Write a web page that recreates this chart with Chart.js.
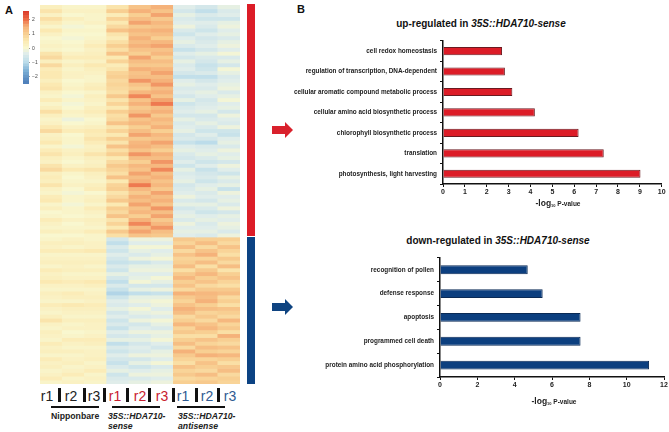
<!DOCTYPE html>
<html>
<head>
<meta charset="utf-8">
<script src="https://cdn.jsdelivr.net/npm/chart.js@4"></script>
<style>
html, body { margin: 0; padding: 0; background: #fff; }
body { position: relative; width: 669px; height: 432px; overflow: hidden; font-family: "Liberation Sans", Arial, sans-serif; color: #111; }
canvas { position: absolute; }
.t { position: absolute; white-space: nowrap; line-height: 1; }
.panel { font-weight: bold; font-size: 11px; }
.title { font-weight: bold; font-size: 10px; transform: translateX(-50%); }
.xlab { font-weight: bold; font-size: 6.5px; transform: translateX(-50%); color: #222; }
.xlab b { font-size: 8.5px; }
.xlab sub { font-size: 4px; vertical-align: -1px; }
.rep { font-size: 14px; transform: translateX(-50%); }
.sep { position: absolute; width: 2.5px; height: 14px; top: 388px; background: #111; }
.rule { position: absolute; height: 1.5px; top: 406px; background: #111; }
.grp { font-weight: bold; font-size: 8.7px; color: #222; }
svg { position: absolute; }
</style>
</head>
<body>
<canvas id="scaleBar" width="22" height="84" style="left:23px;top:5px"></canvas>
<canvas id="heat" width="200" height="379" style="left:40px;top:5px;filter:blur(0.4px)"></canvas>
<canvas id="side" width="8" height="380" style="left:247px;top:4px"></canvas>
<canvas id="upChart" width="384" height="170" style="left:285px;top:34px"></canvas>
<canvas id="downChart" width="384" height="146" style="left:285px;top:251px"></canvas>

<div class="t panel" style="left:5px;top:5px">A</div>
<div class="t panel" style="left:297px;top:4px">B</div>
<div class="t title" style="left:481px;top:19px">up-regulated in <i>35S::HDA710-sense</i></div>
<div class="t title" style="left:498px;top:236px">down-regulated in <i>35S::HDA710-sense</i></div>
<div class="t xlab" style="left:558px;top:199px"><b>-log</b><sub>10</sub> P-value</div>
<div class="t xlab" style="left:554px;top:397px"><b>-log</b><sub>10</sub> P-value</div>

<div id="reps"></div>
<div class="rule" style="left:51px;width:48px"></div>
<div class="rule" style="left:112px;width:48px"></div>
<div class="rule" style="left:177px;width:48px"></div>
<div class="t grp" style="left:51px;top:412px">Nipponbare</div>
<div class="t grp" style="left:108px;top:412px"><i>35S::HDA710-</i></div>
<div class="t grp" style="left:108px;top:421.5px"><i>sense</i></div>
<div class="t grp" style="left:178px;top:412px"><i>35S::HDA710-</i></div>
<div class="t grp" style="left:178px;top:421.5px"><i>antisense</i></div>

<svg style="left:272px;top:122px" width="22" height="17"><path d="M0 4H13V0L21 8L13 16V12H0Z" fill="#d9212c"/></svg>
<svg style="left:272px;top:299px" width="22" height="17"><path d="M0 4H13V0L21 8L13 16V12H0Z" fill="#0f4481"/></svg>

<script>
// bar chart data
const upTerms = ['cell redox homeostasis', 'regulation of transcription, DNA-dependent', 'cellular aromatic compound metabolic process', 'cellular amino acid biosynthetic process', 'chlorophyll biosynthetic process', 'translation', 'photosynthesis, light harvesting'];
const upValues = [2.7, 2.83, 3.17, 4.2, 6.2, 7.35, 9.03];
const downTerms = ['recognition of pollen', 'defense response', 'apoptosis', 'programmed cell death', 'protein amino acid phosphorylation'];
const downValues = [4.7, 5.5, 7.53, 7.53, 11.2];

// replicate labels under the heatmap
const repLabels = ['r1', 'r2', 'r3', 'r1', 'r2', 'r3', 'r1', 'r2', 'r3'];
const repColors = ['#222', '#222', '#222', '#c8202f', '#c8202f', '#c8202f', '#2f5a92', '#2f5a92', '#2f5a92'];
const repCenters = [47, 71, 94, 115, 140, 162, 183, 207, 230];
const repSeps = [58, 83, 103, 126, 148, 172, 195, 217];

// heatmap rows, one array per column
// the first 60 rows are the upper cluster, the last 38 the lower cluster
const nipR1 = [
  .3,.6,.2,.7,.4,.1,.5,.2,.0,.1,
  .2,.1,.6,.8,.3,.8,.4,.5,.5,.3,
  .5,.6,.2,.1,.4,.1,.3,.7,.3,.1,
  .2,.5,.8,.2,.3,.5,.1,.4,.6,.3,
  .2,.6,.8,.3,.4,.3,.6,.2,.1,.4,
  .5,.1,.3,.0,.1,.4,.2,.1,.3,.0,
  .1,.3,.2,.4,.1,.2,.3,.1,.4,.2,
  .3,.5,.2,.1,.3,.2,.1,.4,.2,.1,
  .3,.6,.2,.1,.3,.2,.1,.4,.2,.3,
  .1,.4,.2,.3,.1,.2,.4,.1];
const nipR2 = [
  .1,.2,.0,.3,.1,-.1,.1,.0,-.1,.0,
  .1,.0,.2,.4,.1,.3,.1,.2,.2,.0,
  .1,.2,.0,-.1,.1,-.1,.0,.2,.1,-.2,
  .0,.2,.4,.0,.1,.1,-.1,.2,.3,.1,
  .0,.2,.5,.1,.0,.1,.2,.0,-.1,.1,
  .1,-.1,.1,.1,.0,.2,.0,.1,.2,.0,
  .2,.3,.1,.4,.1,.2,.3,.2,.3,.1,
  .2,.4,.2,.1,.4,.3,.1,.5,.3,.2,
  .1,.3,.1,.2,.0,.1,.4,.2,.1,.3,
  .1,.2,.3,.1,.2,.4,.1,.2];
const nipR3 = [
  .1,.2,.1,.1,.2,.0,.1,.0,.1,.2,
  .4,.2,.3,.4,.2,.5,.3,.2,.1,.1,
  .3,.4,.1,.3,.2,.1,.3,.4,.2,.0,
  .1,.3,.5,.4,.6,.4,.2,.3,.6,.3,
  .2,.3,.6,.3,.2,.1,.3,.4,.0,.2,
  .3,.1,.4,.2,.1,.3,.2,.1,.4,.1,
  .1,.2,.2,.5,.1,.2,.3,.1,.3,.1,
  .2,.5,.3,.1,.2,.3,.2,.4,.3,.2,
  .1,.3,.2,.2,.1,.2,.4,.3,.1,.2,
  .2,.3,.1,.2,.4,.1,.2,.1];
const senR1 = [
  .6,1.0,.4,.9,.5,.8,1.2,.6,.4,.7,
  1.0,.7,1.2,.5,.9,.4,.6,.9,1.0,.8,
  .9,.8,.7,1.1,.6,.9,.5,1.0,.7,.8,
  1.2,.6,.9,.5,1.0,.6,1.2,.7,1.0,.5,
  .8,1.1,.9,.7,1.2,.5,.9,1.0,.6,.8,
  1.1,.5,1.0,.8,1.2,.6,.9,.5,1.1,.7,
  -.6,-.9,-.5,-.7,-.4,-.6,-.8,-.5,-.7,-.3,
  -.6,-.9,-.5,-.8,-1.1,-.7,-.4,-.5,-.3,-.6,
  -.4,-.7,-.5,-.8,-.4,-.6,-.3,-.9,-.5,-.7,
  -.4,-.6,-.8,-.5,-.3,-.7,-.5,-.4];
const senR2 = [
  1.2,1.5,1.0,1.3,1.6,1.1,1.4,1.2,1.5,1.3,
  1.5,1.2,1.0,1.6,1.3,1.1,1.5,1.2,1.3,1.7,
  1.2,1.0,1.4,1.8,1.2,1.5,1.1,1.3,1.7,1.2,
  1.4,1.0,1.3,1.6,1.1,1.4,1.5,1.2,1.7,1.3,
  1.0,1.4,1.2,1.6,1.3,1.5,1.9,1.4,1.1,1.5,
  1.3,1.6,1.2,1.4,1.0,1.5,1.8,1.3,1.6,1.2,
  -.2,-.4,-.1,-.3,-.5,-.2,-.7,-.3,-.2,-.4,
  -.3,-.1,-.6,-.3,-.9,-.3,-.2,-.4,-.1,-.3,
  -.5,-.2,-.6,-.4,-.2,-.5,-.3,-.6,-.4,-.5,
  -.2,-.6,-.3,-.7,-.4,-.2,-.5,-.3];
const senR3 = [
  1.5,1.2,1.6,1.1,1.4,1.2,1.5,1.3,1.0,1.4,
  1.6,1.2,1.4,1.0,1.3,1.1,1.4,1.6,1.3,1.5,
  1.7,1.3,1.5,1.2,1.6,1.9,1.3,1.5,1.1,1.4,
  1.2,1.5,1.0,1.4,1.2,1.6,1.3,1.0,1.5,1.3,
  1.7,1.4,1.8,1.3,1.5,1.2,1.4,1.1,1.6,1.3,
  1.5,1.2,1.7,1.3,1.6,1.1,1.4,1.7,1.3,1.1,
  -.2,-.4,-.1,-.4,-.3,-.1,-.5,-.3,-.2,-.4,
  -.1,-.3,-.6,-.2,-.8,-.3,-.1,-.2,-.4,-.2,
  -.4,-.1,-.3,-.5,-.2,-.3,-.1,-.4,-.6,-.3,
  -.2,-.4,-.1,-.5,-.3,-.2,-.4,-.2];
const antR1 = [
  -.4,-.6,-.3,-.5,-.4,-.2,-.5,-.7,-.4,-.3,
  -.5,-.8,-.4,-.6,-.3,-.5,-.4,-.6,-.9,-.4,
  -.3,-.5,-.4,-.6,-.3,-.7,-.5,-.4,-.6,-.3,
  -.5,-.4,-.3,-.6,-.5,-.8,-.4,-.3,-.5,-.6,
  -.4,-.7,-.3,-.5,-.4,-.3,-.6,-.5,-.4,-.2,
  -.5,-.3,-.6,-.4,-.3,-.5,-.2,-.4,-.3,-.4,
  1.1,.9,1.3,.8,1.2,.9,1.0,1.3,.7,1.1,
  1.4,1.0,1.2,.8,1.5,1.1,.9,1.2,1.5,1.3,
  .8,1.0,1.4,.9,1.1,.7,1.0,1.3,.8,1.5,
  1.1,.9,.7,1.2,.9,1.1,.8,1.0];
const antR2 = [
  -.6,-.9,-.5,-.7,-.4,-.5,-.7,-.4,-.6,-.5,
  -.4,-.6,-.3,-.5,-.6,-.8,-.7,-.5,-.9,-.6,
  -.4,-.5,-.3,-.4,-.6,-.5,-.4,-.3,-.6,-.5,
  -.3,-.5,-.7,-.4,-.6,-1.0,-.5,-.4,-.3,-.5,
  -.7,-.4,-.8,-.6,-.5,-.7,-.4,-.3,-.5,-.4,
  -.6,-.3,-.5,-.7,-.4,-.3,-.5,-.4,-.3,-.5,
  1.0,1.3,.8,1.2,1.5,.9,1.3,.7,1.1,1.4,
  1.0,1.2,.8,1.1,1.4,1.3,1.5,1.0,1.3,.9,
  1.1,.8,1.2,1.4,1.0,.7,1.2,.9,1.3,1.0,
  1.5,.9,1.2,1.0,.8,1.3,.9,1.1];
const antR3 = [
  -.3,-.5,-.4,-.7,-.3,-.2,-.4,-.3,-.5,-.3,
  -.2,-.4,-.1,-.5,-.3,-.6,-.1,-.3,-.5,-.4,
  -.3,-.2,-.5,-.3,-.1,-.4,-.3,-.6,-.2,-.4,
  -.5,-.2,-.7,-.8,-.4,-.3,-.5,-.2,-.4,-.3,
  -.6,-.2,-.4,-.7,-.3,-.5,-.3,-.8,-.2,-.4,
  -.3,-.5,-.2,-.6,-.3,-.4,-.2,-.3,-.5,-.2,
  1.0,.8,1.2,.9,.7,1.1,.8,1.3,.6,1.0,
  1.2,.9,.7,1.1,1.3,.8,1.0,.7,1.2,1.0,
  .8,1.4,.9,1.1,.7,1.5,1.0,.8,1.2,.9,
  1.4,1.0,.7,1.1,1.3,.8,1.0,.9];
const heatColumns = [nipR1, nipR2, nipR3, senR1, senR2, senR3, antR1, antR2, antR3];

const clusterSizes = [60, 38];
const clusterColors = ['#dc1c27', '#0c4383'];

// colour key
const keyStops = [-2.6, -1.6, -1, -.4, 0, .5, 1, 1.5, 2, 2.7];
const keyColors = ['#4575b4', '#7db1d6', '#bcdcea', '#e0edea', '#f9f7cf', '#fbe9b2', '#f8cf92', '#f5b27a', '#ec6b45', '#d73027'];
const keyEdges = [-2.5, -2.3, -2.1, -1.9, -1.7, -1.5, -1.3, -1.1, -.9, -.7, -.5, -.3, -.1, .1, .3, .5, .7, .9, 1.1, 1.3, 1.5, 1.7, 1.9, 2.1, 2.3, 2.5, 2.65];
const keyTicks = [2, 1, 0, -1, -2];

function hexToRgb(h) {
    return [parseInt(h.slice(1, 3), 16), parseInt(h.slice(3, 5), 16), parseInt(h.slice(5, 7), 16)];
}

// value -> heatmap colour
function colourFor(v) {
    let i = 0;
    while (i < keyStops.length - 2 && v > keyStops[i + 1]) i++;
    let f = (v - keyStops[i]) / (keyStops[i + 1] - keyStops[i]);
    f = Math.max(0, Math.min(1, f));
    const a = hexToRgb(keyColors[i]), b = hexToRgb(keyColors[i + 1]);
    return 'rgb(' + a.map((c, k) => Math.round(c + (b[k] - c) * f)).join(',') + ')';
}

// replicate labels and separators
const reps = document.getElementById('reps');
repLabels.forEach(function (r, i) {
    const d = document.createElement('div');
    d.className = 't rep';
    d.textContent = r;
    d.style.left = repCenters[i] + 'px';
    d.style.top = '389px';
    d.style.color = repColors[i];
    reps.appendChild(d);
});
repSeps.forEach(function (x) {
    const d = document.createElement('div');
    d.className = 'sep';
    d.style.left = x + 'px';
    reps.appendChild(d);
});

const base = { responsive: false, animation: false, plugins: { legend: { display: false }, tooltip: { enabled: false } } };

// heatmap: one stacked dataset per row, one bar per column
const rowCount = nipR1.length;
const heatRows = [];
for (let r = 0; r < rowCount; r++) {
    heatRows.push({
        data: heatColumns.map(() => 1),
        backgroundColor: heatColumns.map(col => colourFor(col[r])),
        categoryPercentage: 1,
        barPercentage: 1
    });
}
new Chart(document.getElementById('heat').getContext('2d'), {
    type: 'bar',
    data: { labels: repLabels.map((r, i) => i + r), datasets: heatRows },
    options: Object.assign({}, base, {
        layout: { padding: 0 },
        scales: {
            x: { stacked: true, display: false },
            y: { stacked: true, display: false, reverse: true, min: 0, max: rowCount }
        }
    })
});

// cluster side bar
new Chart(document.getElementById('side').getContext('2d'), {
    type: 'bar',
    data: {
        labels: ['cluster'],
        datasets: clusterSizes.map((n, i) => ({
            data: [n],
            backgroundColor: clusterColors[i],
            borderColor: '#fff',
            borderWidth: { top: 0, left: 0, right: 0, bottom: i === 0 ? 1 : 0 },
            borderSkipped: false,
            categoryPercentage: 1,
            barPercentage: 1
        }))
    },
    options: Object.assign({}, base, {
        scales: {
            x: { stacked: true, display: false },
            y: { stacked: true, display: false, reverse: true, min: 0, max: rowCount }
        }
    })
});

// colour key with its axis on the right
const keySegments = keyEdges.slice(0, -1).map((e, i) => [e, keyEdges[i + 1]]);
new Chart(document.getElementById('scaleBar').getContext('2d'), {
    type: 'bar',
    data: {
        labels: ['key'],
        datasets: keySegments.map(seg => ({
            data: [seg],
            backgroundColor: colourFor((seg[0] + seg[1]) / 2),
            grouped: false,
            categoryPercentage: 1,
            barPercentage: 1
        }))
    },
    options: Object.assign({}, base, {
        layout: { padding: { top: 6, bottom: 0 } },
        scales: {
            x: { display: false },
            y: {
                position: 'right',
                min: -2.52,
                max: 2.62,
                afterFit: s => { s.width = 16; },
                afterBuildTicks: s => { s.ticks = keyTicks.map(v => ({ value: v })); },
                border: { display: false },
                grid: { drawOnChartArea: false, tickLength: 1, color: '#999' },
                ticks: { padding: 2, color: '#444', font: { size: 5, family: 'Liberation Sans' }, callback: v => String(v).replace('-', '\u2212') }
            }
        }
    })
});

// horizontal enrichment bars
function termChart(id, terms, values, fill, edge, barPct, xMax, xStep, yWidth, padTop, padRight) {
    return new Chart(document.getElementById(id).getContext('2d'), {
        type: 'bar',
        data: {
            labels: terms,
            datasets: [{ data: values, backgroundColor: fill, borderColor: edge, borderWidth: 1, borderSkipped: 'left', categoryPercentage: 1, barPercentage: barPct }]
        },
        options: Object.assign({}, base, {
            indexAxis: 'y',
            layout: { padding: { top: padTop, right: padRight, left: 0, bottom: 0 } },
            scales: {
                x: {
                    min: 0,
                    max: xMax,
                    afterFit: s => { s.height = 20; },
                    border: { color: '#111', width: 1.5 },
                    grid: { drawOnChartArea: false, tickLength: 3, color: '#111' },
                    ticks: { stepSize: xStep, maxRotation: 0, padding: 1, color: '#222', font: { size: 7, weight: 'bold', family: 'Liberation Sans' } }
                },
                y: {
                    afterFit: s => { s.width = yWidth; },
                    border: { color: '#111', width: 1.5 },
                    grid: { drawOnChartArea: false, tickLength: 3, color: '#111' },
                    ticks: { padding: 3, autoSkip: false, color: '#222', font: { size: 6.4, weight: 'bold', family: 'Liberation Sans' } }
                }
            }
        })
    });
}

termChart('upChart', upTerms, upValues, '#dc1c27', '#6a1a20', .4, 10, 1, 158, 4, 7.3);
termChart('downChart', downTerms, downValues, '#0c3f7f', '#0a2a55', .37, 12, 2, 155, 4, 5);
</script>
</body>
</html>
